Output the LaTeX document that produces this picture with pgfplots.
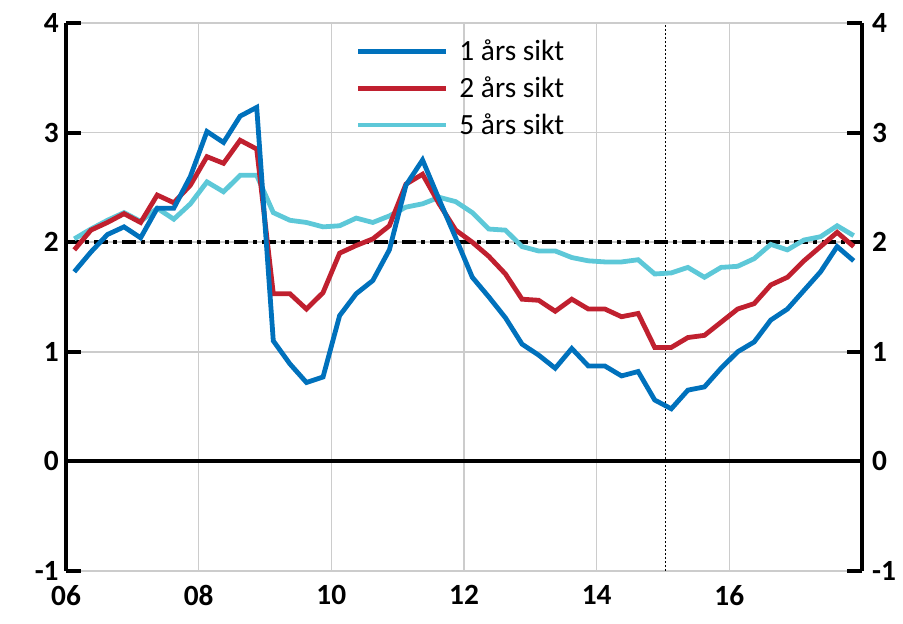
\documentclass[border=0pt]{standalone}
\usepackage{fontspec}
\setmainfont{Carlito}
\usepackage{pgfplots}
\usepackage{pgfplotstable}
\pgfplotsset{compat=1.18}

\definecolor{ettar}{HTML}{0071BC}
\definecolor{tvaar}{HTML}{C0202F}
\definecolor{femar}{HTML}{5DC8D8}

% kvartalsdata, x = år (06 = 2006)
\pgfplotstableread{
x      one   two   five
6.125  1.73  1.93  2.03
6.375  1.91  2.11  2.12
6.625  2.07  2.18  2.20
6.875  2.14  2.26  2.27
7.125  2.04  2.18  2.19
7.375  2.31  2.43  2.31
7.625  2.31  2.36  2.21
7.875  2.60  2.52  2.35
8.125  3.01  2.78  2.55
8.375  2.91  2.72  2.46
8.625  3.15  2.93  2.61
8.875  3.23  2.85  2.61
9.125  1.10  1.53  2.27
9.375  0.89  1.53  2.20
9.625  0.72  1.39  2.18
9.875  0.77  1.54  2.14
10.125 1.33  1.90  2.15
10.375 1.53  1.97  2.22
10.625 1.65  2.03  2.18
10.875 1.93  2.15  2.24
11.125 2.52  2.53  2.32
11.375 2.75  2.62  2.35
11.625 2.39  2.35  2.41
11.875 2.04  2.11  2.37
12.125 1.68  2.00  2.27
12.375 1.50  1.87  2.12
12.625 1.31  1.71  2.11
12.875 1.07  1.48  1.96
13.125 0.97  1.47  1.92
13.375 0.85  1.37  1.92
13.625 1.03  1.48  1.86
13.875 0.87  1.39  1.83
14.125 0.87  1.39  1.82
14.375 0.78  1.32  1.82
14.625 0.82  1.35  1.84
14.875 0.56  1.04  1.71
15.125 0.48  1.04  1.72
15.375 0.65  1.13  1.77
15.625 0.68  1.15  1.68
15.875 0.85  1.27  1.77
16.125 1.00  1.39  1.78
16.375 1.09  1.44  1.85
16.625 1.29  1.61  1.98
16.875 1.39  1.68  1.93
17.125 1.56  1.83  2.02
17.375 1.73  1.96  2.05
17.625 1.96  2.09  2.15
17.875 1.83  1.96  2.06
}\forv

\begin{document}
\begin{tikzpicture}
\begin{axis}[
    name=main,
    scale only axis,
    width=597pt, height=411pt,
    xmin=6, xmax=18,
    ymin=-1, ymax=4,
    separate axis lines,
    x axis line style={draw=none},
    y axis line style={line width=3pt, black},
    xtick={6,8,...,16},
    xticklabels={06,08,10,12,14,16},
    ytick={-1,0,...,4},
    yticklabels={-1,0,1,2,3,4},
    major x tick style={draw=none},
    major y tick style={line width=3pt, black},
    tick align=inside,
    major tick length=11pt,
    xmajorgrids, ymajorgrids,
    grid style={black!20, line width=1.1pt},
    tick label style={font=\fontsize{22}{26}\selectfont\bfseries},
    xticklabel style={yshift=-7pt},
    yticklabel style={xshift=-2pt},
    reverse legend,
    legend cell align=left,
    legend style={
        at={(rel axis cs:0.359,0.979)}, anchor=north west,
        draw=none, fill=none,
        font=\fontsize{22}{26}\selectfont,
        row sep=6.5pt, column sep=6pt,
    },
    legend image code/.code={\draw[#1] (0pt,0pt) -- (66pt,0pt);},
]
% hjelpelinjer
\addplot[forget plot, black, line width=3pt] coordinates {(6,0) (18,0)};
\addplot[forget plot, black, line width=0.7pt, dash pattern=on 1.5pt off 1.5pt]
    coordinates {(15.03,-1) (15.03,4)};
\addplot[forget plot, black, line width=3pt,
    dash pattern=on 10.5pt off 3.75pt on 3pt off 3.75pt]
    coordinates {(6,2) (18,2)};

\addplot[femar, line width=3.6pt] table[x=x, y=five] {\forv};
\addlegendentry{5 års sikt}
\addplot[tvaar, line width=3.6pt] table[x=x, y=two] {\forv};
\addlegendentry{2 års sikt}
\addplot[ettar, line width=3.6pt] table[x=x, y=one] {\forv};
\addlegendentry{1 års sikt}

\coordinate (bl) at (rel axis cs:0,0);
\coordinate (tr) at (rel axis cs:1,1);
\end{axis}

\begin{axis}[
    scale only axis,
    width=597pt, height=411pt,
    xmin=6, xmax=18,
    ymin=-1, ymax=4,
    hide x axis,
    axis y line*=right,
    y axis line style={draw=none},
    ytick={-1,0,...,4},
    yticklabels={-1,0,1,2,3,4},
    major tick length=0pt,
    yticklabel style={font=\fontsize{22}{26}\selectfont\bfseries, xshift=4pt},
]
\end{axis}

\pgfresetboundingbox
\path[use as bounding box] ([shift={(-49.5pt,-39.75pt)}]bl) rectangle ([shift={(30.75pt,17.25pt)}]tr);
\end{tikzpicture}
\end{document}
